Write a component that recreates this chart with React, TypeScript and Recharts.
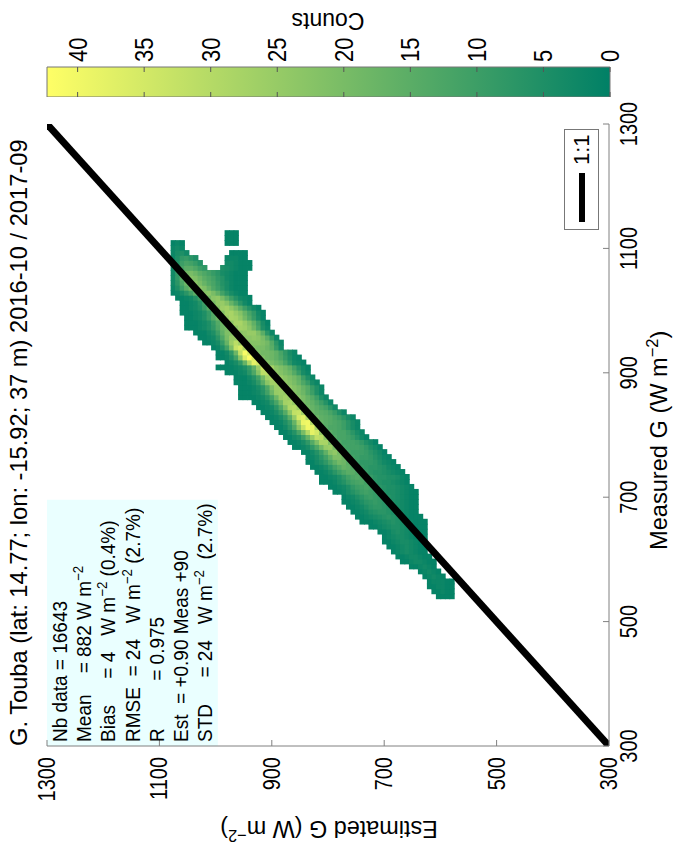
import { Bar, BarChart, ReferenceArea, Scatter, ScatterChart, XAxis, YAxis } from "recharts";

const FONT = '"Liberation Sans", Arial, sans-serif';
const AXIS_GRAY = "#808080";

const BIN_SIZE = 8;
const PLOT_W = 622;
const PLOT_H = 562;
const MAX_COUNT = 42.3;

const axisTicks = [300, 500, 700, 900, 1100, 1300];
const colorTicks = [0, 5, 10, 15, 20, 25, 30, 35, 40];
const oneToOne = [
  { measured: 300, estimated: 300 },
  { measured: 1300, estimated: 1300 },
];

const infoLines = [
  { label: "Nb data = 16643" },
  { label: "Mean    = 882 W m", sup: "−2" },
  { label: "Bias     = 4   W m", sup: "−2", tail: " (0.4%)" },
  { label: "RMSE  = 24   W m", sup: "−2", tail: " (2.7%)" },
  { label: "R         = 0.975" },
  { label: "Est  = +0.90 Meas +90" },
  { label: "STD     = 24   W m", sup: "−2", tail: "  (2.7%)" },
];

// lower-left row of the 2D histogram first, one row per measured bin
const firstMeasured = 540;

// estimated value of the first (highest) cell of each row
const rowTops = [
  604, 612, 620, 620, 628, 636, 652, 668, 676, 684,
  692, 700, 700, 708, 724, 740, 748, 756, 764, 772,
  772, 788, 796, 812, 812, 820, 828, 836, 836, 844,
  860, 868, 876, 884, 892, 900, 908, 916, 924, 932,
  956, 956, 956, 964, 964, 980, 996, 980, 996, 996,
  1004, 1020, 1028, 1036, 1052, 1052, 1052, 1060, 1060, 1060,
  1068, 1076, 1076, 1076, 1076, 1076, 1076, 1076, 1076, 1076,
  1076, 1076, 980, 980,
];

// counts, from the highest estimated cell downwards
const rowCounts = [
  [1, 1, 1, 1],
  [1, 1, 2, 1, 1],
  [1, 1, 2, 2, 1, 1],
  [1, 2, 2, 2, 1, 1],
  [1, 2, 3, 2, 1],
  [1, 2, 3, 2, 1],
  [1, 1, 2, 3, 2, 1],
  [1, 1, 2, 3, 3, 2, 1, 1],
  [1, 1, 2, 3, 3, 2, 1, 1],
  [1, 2, 3, 4, 3, 2, 1, 1],
  [1, 1, 2, 3, 4, 3, 2, 1, 1],
  [1, 1, 2, 3, 4, 4, 3, 2, 1, 1],
  [1, 2, 3, 4, 4, 3, 2, 1, 1, 1],
  [1, 1, 2, 4, 5, 4, 3, 2, 1, 1, 1],
  [1, 1, 2, 3, 4, 5, 5, 4, 3, 2, 1, 1, 1],
  [1, 1, 1, 2, 3, 4, 5, 6, 5, 4, 3, 2, 1, 1, 1],
  [1, 1, 2, 3, 4, 5, 6, 7, 6, 5, 3, 2, 1, 1, 1],
  [1, 1, 2, 3, 5, 6, 7, 7, 6, 5, 4, 3, 2, 1, 1],
  [1, 1, 2, 3, 5, 7, 8, 8, 7, 6, 5, 4, 3, 2, 1, 1],
  [1, 1, 2, 3, 5, 7, 8, 9, 8, 7, 6, 5, 4, 3, 2, 1, 1],
  [1, 2, 3, 5, 7, 9, 10, 9, 8, 7, 6, 5, 4, 3, 2, 1, 1],
  [1, 1, 2, 4, 6, 8, 10, 11, 10, 9, 7, 6, 5, 5, 4, 3, 2, 1, 1],
  [1, 1, 2, 3, 5, 8, 10, 11, 12, 11, 9, 7, 6, 5, 5, 4, 3, 2, 1],
  [1, 1, 1, 2, 4, 6, 9, 11, 12, 13, 11, 9, 7, 6, 5, 5, 4, 3, 2, 1],
  [1, 1, 2, 3, 5, 8, 11, 13, 14, 13, 11, 9, 7, 6, 6, 5, 5, 4, 2, 1],
  [1, 1, 2, 4, 7, 10, 13, 15, 15, 13, 11, 9, 7, 6, 6, 5, 4, 3, 2, 1],
  [1, 1, 2, 4, 7, 11, 14, 17, 16, 14, 11, 9, 8, 7, 7, 6, 5, 3, 2, 1],
  [1, 1, 3, 5, 8, 12, 16, 19, 18, 15, 12, 10, 8, 8, 8, 7, 5, 3, 2, 1],
  [1, 2, 4, 7, 11, 16, 21, 21, 18, 14, 11, 10, 9, 9, 8, 6, 4, 2, 1],
  [1, 1, 3, 6, 10, 16, 22, 24, 20, 15, 12, 10, 10, 10, 9, 7, 5, 3, 1],
  [1, 1, 2, 4, 8, 13, 19, 25, 26, 20, 15, 12, 11, 11, 11, 10, 8, 5, 3, 1],
  [1, 1, 2, 4, 8, 14, 21, 28, 28, 21, 16, 13, 11, 11, 11, 10, 8, 5, 3, 1],
  [1, 1, 3, 5, 10, 17, 25, 32, 31, 23, 17, 14, 12, 12, 11, 9, 6, 3, 1],
  [1, 1, 3, 6, 12, 20, 30, 38, 35, 25, 18, 15, 13, 12, 12, 10, 7, 4, 2],
  [1, 1, 3, 7, 13, 23, 33, 40, 38, 27, 19, 15, 13, 13, 12, 10, 7, 4, 2],
  [1, 1, 2, 5, 9, 17, 28, 39, 40, 30, 21, 17, 15, 14, 13, 12, 10, 7, 4, 2],
  [1, 1, 2, 4, 8, 15, 25, 35, 37, 29, 21, 18, 16, 15, 14, 12, 10, 7, 4, 2],
  [1, 1, 2, 4, 8, 14, 23, 32, 33, 27, 21, 18, 16, 15, 14, 12, 9, 5, 2],
  [1, 1, 2, 3, 7, 13, 21, 29, 30, 26, 22, 19, 17, 15, 13, 11, 7, 3],
  [1, 1, 2, 3, 7, 12, 19, 27, 28, 25, 22, 20, 18, 16, 13, 10, 6, 2],
  [1, 1, 1, 1, 2, 3, 6, 11, 18, 25, 27, 25, 23, 22, 20, 17, 14, 10, 5, 2],
  [1, 1, 1, 2, 3, 6, 11, 18, 25, 26, 25, 24, 22, 20, 18, 14, 10, 5, 2],
  [1, 1, 1, 2, 4, 7, 13, 21, 26, 26, 25, 24, 22, 20, 17, 14, 9, 5, 2],
  [1, 1, 1, 2, 4, 8, 15, 23, 27, 27, 26, 24, 22, 20, 17, 13, 9, 4, 2],
  [1, 1, 1, 3, 6, 11, 19, 27, 29, 27, 25, 23, 21, 19, 16, 10, 5, 2],
  [1, 1, 1, 2, 3, 7, 13, 22, 31, 31, 27, 24, 22, 20, 18, 14, 9, 4, 2],
  [1, 1, 1, 1, 2, 3, 5, 9, 16, 26, 34, 33, 27, 23, 21, 19, 16, 11, 6, 3, 1],
  [1, 2, 4, 8, 17, 29, 38, 35, 27, 22, 20, 18, 16, 12, 7, 3, 2, 1],
  [1, 1, 2, 5, 11, 23, 36, 42, 36, 26, 21, 19, 18, 16, 13, 9, 5, 2, 1],
  [1, 1, 3, 8, 18, 32, 41, 36, 26, 21, 19, 19, 18, 16, 12, 8, 4, 2],
  [1, 2, 5, 11, 21, 33, 36, 29, 24, 21, 20, 20, 18, 15, 9, 3],
  [1, 1, 2, 4, 9, 17, 26, 31, 27, 23, 22, 22, 22, 21, 19, 14, 7, 2],
  [1, 1, 2, 3, 7, 13, 20, 25, 25, 23, 23, 23, 24, 23, 20, 15, 8, 2],
  [1, 1, 1, 3, 5, 10, 16, 21, 22, 22, 23, 24, 25, 25, 21, 15, 7, 2],
  [1, 1, 1, 2, 3, 5, 8, 13, 18, 20, 21, 24, 27, 26, 23, 18, 12, 5, 2],
  [1, 1, 1, 2, 3, 5, 9, 14, 18, 21, 24, 28, 28, 25, 21, 16, 10, 4, 1],
  [1, 1, 2, 3, 5, 9, 14, 18, 21, 25, 28, 27, 24, 19, 14, 9, 4, 1],
  [1, 1, 1, 2, 3, 5, 9, 14, 18, 22, 27, 28, 25, 22, 17, 12, 8, 3, 1],
  [1, 1, 2, 3, 5, 9, 14, 18, 22, 26, 27, 24, 20, 15, 10, 6, 3, 1],
  [1, 1, 2, 3, 6, 10, 15, 20, 24, 25, 22, 17, 12, 7, 3, 1],
  [1, 1, 2, 3, 6, 10, 15, 19, 23, 24, 20, 15, 10, 6, 3, 2, 1],
  [1, 2, 4, 7, 11, 15, 19, 22, 23, 20, 16, 11, 7, 4, 2, 1, 1],
  [2, 5, 10, 15, 19, 22, 23, 21, 17, 13, 10, 7, 4, 2, 1, 1, 1],
  [3, 7, 13, 18, 22, 23, 20, 17, 14, 12, 9, 6, 4, 2, 1, 1, 1],
  [3, 8, 15, 20, 22, 21, 18, 15, 13, 11, 8, 6, 3, 2, 1, 1, 1],
  [3, 8, 14, 19, 20, 18, 15, 13, 11, 9, 7, 4, 3, 2, 1, 1, 1],
  [3, 7, 12, 15, 15, 13, 10, 8, 0, 0, 0, 5, 4, 3, 2, 1, 1, 1],
  [3, 6, 10, 12, 11, 9, 6, 0, 0, 0, 0, 0, 3, 3, 2, 1, 1, 1],
  [2, 5, 8, 9, 7, 5, 0, 0, 0, 0, 0, 0, 2, 2, 2, 1, 1],
  [2, 4, 5, 3, 0, 0, 0, 0, 0, 0, 0, 0, 0, 1, 1, 1, 1],
  [2, 3, 2],
  [1, 2, 1, 0, 0, 0, 0, 0, 0, 0, 0, 0, 1, 1, 1],
  [1, 1, 1],
  [1, 1, 1],
];

const cells = rowCounts.flatMap((row, r) =>
  row.flatMap((count, c) =>
    count > 0
      ? [{ measured: firstMeasured + r * BIN_SIZE, estimated: rowTops[r] - c * BIN_SIZE, count }]
      : []
  )
);

// MATLAB "summer" colormap
const countColor = (count: number) => {
  const t = Math.min(count / MAX_COUNT, 1);
  return `rgb(${Math.round(255 * t)},${Math.round(128 + 127 * t)},102)`;
};

const HeatCell = ({ cx, cy, payload }: any) => {
  const w = (BIN_SIZE / 1000) * PLOT_W;
  const h = (BIN_SIZE / 1000) * PLOT_H;
  return (
    <rect
      x={cx - w / 2}
      y={cy - h / 2}
      width={w + 0.8}
      height={h + 0.8}
      fill={countColor(payload.count)}
    />
  );
};

// the source figure is stretched: tick glyphs are taller than they are wide
const TICK_STRETCH = 1.18;

const BottomTick = ({ x, y, payload }: any) => (
  <g>
    <line x1={x} y1={y} x2={x} y2={y - 6} stroke={AXIS_GRAY} />
    <text
      transform={`translate(${x},${y + 28}) scale(1,${TICK_STRETCH})`}
      textAnchor="middle"
      fontSize={20}
      fontFamily={FONT}
      fill="#000"
    >
      {payload.value}
    </text>
  </g>
);
const TopTick = ({ x, y }: any) => <line x1={x} y1={y} x2={x} y2={y + 6} stroke={AXIS_GRAY} />;
const LeftTick = ({ x, y, payload }: any) => (
  <g>
    <line x1={x} y1={y} x2={x + 6} y2={y} stroke={AXIS_GRAY} />
    <text
      transform={`translate(${x - 11},${y + 8}) scale(1,${TICK_STRETCH})`}
      textAnchor="end"
      fontSize={20}
      fontFamily={FONT}
      fill="#000"
    >
      {payload.value}
    </text>
  </g>
);
const RightTick = ({ x, y }: any) => <line x1={x} y1={y} x2={x - 6} y2={y} stroke={AXIS_GRAY} />;

const ColorTick = ({ x, y, payload }: any) => (
  <g>
    <line x1={x} y1={y} x2={x - 5} y2={y} stroke="#555" />
    <line x1={x - 30} y1={y} x2={x - 25} y2={y} stroke="#555" />
    <text
      transform={`translate(${x + 5},${y + 9}) scale(1,${TICK_STRETCH})`}
      fontSize={22}
      fontFamily={FONT}
      fill="#000"
    >
      {payload.value}
    </text>
  </g>
);

const textStyle = {
  position: "absolute" as const,
  fontFamily: FONT,
  color: "#000",
  whiteSpace: "pre" as const,
  lineHeight: 1,
};
const supStyle = { fontSize: "0.7em", verticalAlign: "0.55em", lineHeight: 0 };

function ColorBar() {
  return (
    <div style={{ position: "absolute", left: 753, top: 0 }}>
      <BarChart
        width={70}
        height={674}
        data={[{ name: "Counts", top: MAX_COUNT }]}
        margin={{ top: 47, right: 0, bottom: 64, left: 0 }}
        barCategoryGap={0}
      >
        <defs>
          <linearGradient id="summer" x1="0" y1="0" x2="0" y2="1">
            <stop offset="0%" stopColor={countColor(MAX_COUNT)} />
            <stop offset="100%" stopColor={countColor(0)} />
          </linearGradient>
        </defs>
        <XAxis dataKey="name" hide />
        <YAxis
          orientation="right"
          width={40}
          type="number"
          domain={[0, MAX_COUNT]}
          ticks={colorTicks}
          interval={0}
          tickSize={0}
          tickMargin={0}
          tickLine={false}
          axisLine={false}
          tick={<ColorTick />}
        />
        <Bar dataKey="top" fill="url(#summer)" stroke="#777" isAnimationActive={false} />
      </BarChart>
    </div>
  );
}

export default function App() {
  return (
    <div style={{ position: "absolute", left: 0, top: 0, width: 674, height: 850, overflow: "hidden", background: "#fff" }}>
      <div
        style={{
          position: "absolute",
          left: 0,
          top: 0,
          width: 850,
          height: 674,
          transformOrigin: "0 0",
          transform: "translateY(850px) rotate(-90deg)",
        }}
      >
        <ScatterChart width={850} height={674} margin={{ top: 47, right: 124, bottom: 25, left: 44 }}>
          <XAxis
            dataKey="measured"
            type="number"
            domain={[300, 1300]}
            ticks={axisTicks}
            interval={0}
            height={40}
            tickSize={0}
            tickMargin={0}
            tickLine={false}
            stroke={AXIS_GRAY}
            tick={<BottomTick />}
            allowDataOverflow
          />
          <XAxis xAxisId="top" orientation="top" type="number" domain={[300, 1300]} ticks={axisTicks} interval={0} height={0} tickSize={0} tickMargin={0} tickLine={false} stroke={AXIS_GRAY} tick={<TopTick />} />
          <YAxis
            dataKey="estimated"
            type="number"
            domain={[300, 1300]}
            ticks={axisTicks}
            interval={0}
            width={60}
            tickSize={0}
            tickMargin={0}
            tickLine={false}
            stroke={AXIS_GRAY}
            tick={<LeftTick />}
            allowDataOverflow
          />
          <YAxis yAxisId="right" orientation="right" type="number" domain={[300, 1300]} ticks={axisTicks} interval={0} width={0} tickSize={0} tickMargin={0} tickLine={false} stroke={AXIS_GRAY} tick={<RightTick />} />
          <ReferenceArea x1={300} x2={696} y1={996} y2={1300} fill="#EAFFFF" fillOpacity={1} stroke="none" />
          <Scatter data={cells} shape={<HeatCell />} isAnimationActive={false} />
          <Scatter
            name="1:1"
            data={oneToOne}
            line={{ stroke: "#000", strokeWidth: 7 }}
            shape={() => <g />}
            isAnimationActive={false}
          />
        </ScatterChart>

        <ColorBar />

        {/* title */}
        <div style={{ ...textStyle, left: 104, top: 8, fontSize: 23.7 }}>
          G. Touba (lat: 14.77; lon: -15.92; 37 m) 2016-10 / 2017-09
        </div>

        {/* statistics box */}
        {infoLines.map((line, i) => (
          <div
            key={i}
            style={{
              ...textStyle,
              left: 108,
              top: 50 + i * 24.2,
              fontSize: 19,
              transform: "scaleY(1.08)",
            }}
          >
            {line.label}
            {line.sup ? <span style={supStyle}>{line.sup}</span> : null}
            {line.tail}
          </div>
        ))}

        {/* legend */}
        <div style={{ position: "absolute", left: 620, top: 564, width: 101, height: 35, border: "1px solid #777", boxSizing: "border-box", background: "#fff" }}>
          <div style={{ position: "absolute", left: 7, top: 14, width: 49, height: 6, background: "#000" }} />
          <div style={{ ...textStyle, left: 64, top: 6, fontSize: 22 }}>1:1</div>
        </div>

        {/* axis labels */}
        <div style={{ ...textStyle, left: 300, top: 648, fontSize: 23.6 }}>
          Measured G (W m<span style={supStyle}>−2</span>)
        </div>
        <div
          style={{
            ...textStyle,
            left: 22,
            top: 329,
            fontSize: 23.4,
            transform: "translate(-50%, -50%) rotate(-90deg)",
          }}
        >
          Estimated G (W m<span style={supStyle}>−2</span>)
        </div>
        <div
          style={{
            ...textStyle,
            left: 830,
            top: 328,
            fontSize: 23,
            transform: "translate(-50%, -50%) rotate(-90deg)",
          }}
        >
          Counts
        </div>
      </div>
    </div>
  );
}
